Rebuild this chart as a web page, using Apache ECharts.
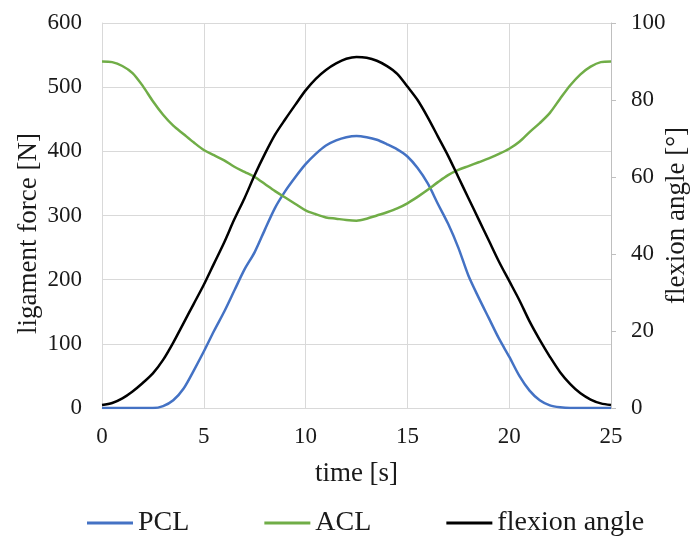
<!DOCTYPE html>
<html>
<head>
<meta charset="utf-8">
<script src="https://cdn.jsdelivr.net/npm/echarts@6/dist/echarts.min.js"></script>
<style>
  html, body { margin: 0; padding: 0; background: #fff; }
  #main { width: 691px; height: 536px; }
</style>
</head>
<body>
<div id="main"></div>
<script>
// time [s], every 0.5 s
var timeList = [0, 0.5, 1, 1.5, 2, 2.5, 3, 3.5, 4, 4.5, 5, 5.5, 6, 6.5, 7, 7.5, 8, 8.5, 9, 9.5,
  10, 10.5, 11, 11.5, 12, 12.5, 13, 13.5, 14, 14.5, 15, 15.5, 16, 16.5, 17, 17.5, 18, 18.5, 19, 19.5,
  20, 20.5, 21, 21.5, 22, 22.5, 23, 23.5, 24, 24.5, 25];

// ligament force [N]
var pclValues = [0, 0, 0, 0, 0, 0, 3, 12, 30, 58, 88, 120, 150, 183, 216, 243, 278, 312, 338, 360,
  380, 396, 409, 417, 422, 424, 422, 418, 411, 403, 392, 374, 350, 318, 287, 250, 206, 172, 140, 108,
  80, 50, 27, 12, 4, 1, 0, 0, 0, 0, 0];

var aclValues = [540, 539, 533, 522, 502, 478, 457, 440, 427, 414, 402, 394, 386, 376, 368, 360, 349, 338, 328, 318,
  308, 302, 297, 295, 293, 292, 295, 300, 305, 311, 319, 329, 340, 352, 363, 371, 377, 383, 389, 396,
  404, 415, 430, 444, 460, 482, 503, 520, 532, 539, 540];

// flexion angle [°]
var angleValues = [0.8, 1.3, 2.5, 4.3, 6.5, 9, 12.5, 17, 22, 27, 32, 37.5, 43, 49, 54.5, 60.5, 66, 71, 75, 78.8,
  82.5, 85.5, 87.8, 89.5, 90.7, 91.2, 91, 90.2, 88.8, 86.8, 83.5, 80, 75.5, 70.5, 65.5, 60, 54.5, 49, 43.5, 38,
  33, 28, 22.5, 17.7, 13.3, 9.3, 6.2, 3.8, 2.2, 1.2, 0.8];

var seriesNames = ['PCL', 'ACL', 'flexion angle'];

function toPairs(xs, ys) {
  var arr = [];
  for (var i = 0; i < xs.length; i++) {
    arr.push([xs[i], ys[i]]);
  }
  return arr;
}

var fontName = '"Liberation Serif", "DejaVu Serif", serif';
var textColor = '#1a1a1a';
var gridColor = '#d9d9d9';

var chart = echarts.init(document.getElementById('main'));

var option = {
  animation: false,
  textStyle: { fontFamily: fontName },
  // v6: keep the grid exactly where it is set, names may go near the edge
  grid: { left: 102, right: 80, top: 23, bottom: 128, containLabel: false, outerBoundsMode: 'none' },
  legend: {
    data: seriesNames,
    left: 82,
    top: 504,
    icon: 'rect',
    itemWidth: 46,
    itemHeight: 3,
    itemGap: 75,
    textStyle: { fontFamily: fontName, fontSize: 28, color: textColor }
  },
  xAxis: {
    type: 'value',
    min: 0,
    max: 25,
    interval: 5,
    name: 'time [s]',
    nameLocation: 'middle',
    nameGap: 52,
    nameMoveOverlap: false,
    nameTextStyle: { fontFamily: fontName, fontSize: 27, color: textColor },
    axisLine: { show: true, lineStyle: { color: gridColor } },
    axisTick: { show: false },
    axisLabel: { fontFamily: fontName, fontSize: 23, color: textColor, margin: 17 },
    splitLine: { show: true, lineStyle: { color: gridColor, width: 1 } }
  },
  yAxis: [{
    type: 'value',
    min: 0,
    max: 600,
    interval: 100,
    name: 'ligament force [N]',
    nameLocation: 'middle',
    nameGap: 60,
    nameMoveOverlap: false,
    nameTextStyle: { fontFamily: fontName, fontSize: 27, color: textColor, padding: [0, 36, 0, 0] },
    axisLine: { show: true, lineStyle: { color: gridColor } },
    axisTick: { show: false },
    axisLabel: { fontFamily: fontName, fontSize: 23, color: textColor, margin: 20 },
    splitLine: { show: true, lineStyle: { color: gridColor, width: 1 } }
  }, {
    type: 'value',
    position: 'right',
    min: 0,
    max: 100,
    interval: 20,
    name: 'flexion angle [°]',
    nameLocation: 'middle',
    nameGap: 52,
    nameRotate: 90,
    nameMoveOverlap: false,
    nameTextStyle: { fontFamily: fontName, fontSize: 27, color: textColor },
    axisLine: { show: true, lineStyle: { color: '#bfbfbf' } },
    axisTick: { show: true, length: 5, lineStyle: { color: '#bfbfbf' } },
    axisLabel: { fontFamily: fontName, fontSize: 23, color: textColor, margin: 20 },
    splitLine: { show: false }
  }],
  series: [{
    name: 'PCL',
    type: 'line',
    yAxisIndex: 0,
    showSymbol: false,
    smooth: 0.3,
    color: '#4472C4',
    lineStyle: { width: 2.5, color: '#4472C4' },
    data: toPairs(timeList, pclValues)
  }, {
    name: 'ACL',
    type: 'line',
    yAxisIndex: 0,
    showSymbol: false,
    smooth: 0.3,
    color: '#70AD47',
    lineStyle: { width: 2.5, color: '#70AD47' },
    data: toPairs(timeList, aclValues)
  }, {
    name: 'flexion angle',
    type: 'line',
    yAxisIndex: 1,
    showSymbol: false,
    smooth: 0.3,
    color: '#000000',
    lineStyle: { width: 2.5, color: '#000000' },
    data: toPairs(timeList, angleValues)
  }]
};

chart.setOption(option);
</script>
</body>
</html>
